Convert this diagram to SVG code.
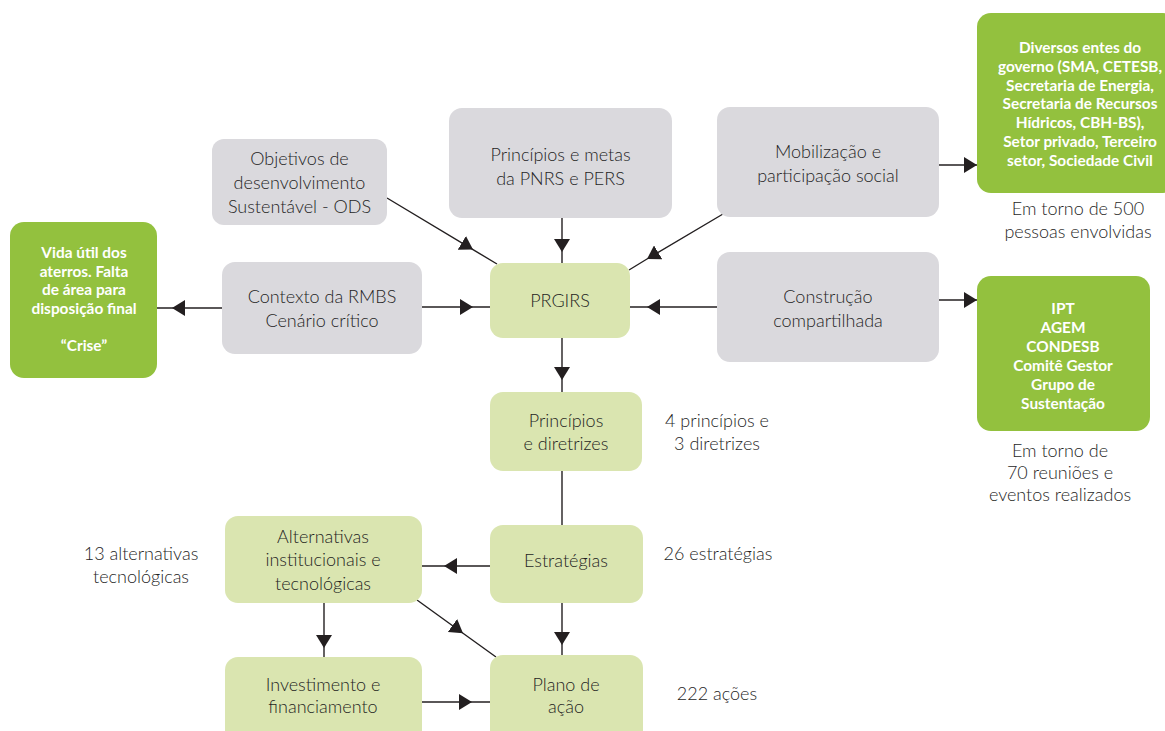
<svg xmlns="http://www.w3.org/2000/svg" width="1165" height="731" viewBox="0 0 1165 731">
<defs>
<style>
.gray{fill:#dad9dd}
.lg{fill:#dae5b0}
.g{fill:#93c13e}
.t{font-family:Lato,"Open Sans","Liberation Sans",sans-serif;font-size:18px;font-weight:300;fill:#1f1f1f;text-anchor:middle}
.w{font-family:Lato,"Open Sans","Liberation Sans",sans-serif;font-size:15.4px;font-weight:bold;fill:#fff;text-anchor:middle}
.c{fill:none;stroke:#231f20;stroke-width:1.4}
.a{marker-mid:url(#ah)}
.e{marker-end:url(#ah)}
</style>
<marker id="ah" markerUnits="userSpaceOnUse" markerWidth="14" markerHeight="16" refX="13" refY="8" orient="auto" viewBox="0 0 14 16">
<path d="M0,0 L13,8 L0,16 Z" fill="#231f20"/>
</marker>
</defs>
<rect width="1165" height="731" fill="#fff"/>

<g id="connectors">
<path class="c a" d="M387,198 L473,249.6 L497,264"/>
<path class="c a" d="M562,218 L562,252 L562,263"/>
<path class="c a" d="M723,214 L647,259 L629,270"/>
<path class="c a" d="M422,307 L473,307 L490,307"/>
<path class="c a" d="M717,307 L647,307 L630,307"/>
<path class="c a" d="M222,308 L172,308 L157,308"/>
<path class="c e" d="M939,165 L977,165"/>
<path class="c e" d="M939,300 L977,300"/>
<path class="c a" d="M562,338 L562,380 L562,392"/>
<path class="c" d="M562,471 L562,525"/>
<path class="c a" d="M490,566 L444,566 L422,566"/>
<path class="c a" d="M562,603 L562,645 L562,655"/>
<path class="c a" d="M324,603 L324,648 L324,657"/>
<path class="c a" d="M422,702 L472,702 L490,702"/>
<path class="c a" d="M417,600 L463,633.2 L496,657"/>
</g>

<g id="objetivos">
<rect class="gray" x="212" y="139" width="175" height="86" rx="12"/>
<text class="t" x="299.5" y="165">Objetivos de</text>
<text class="t" x="299.5" y="189">desenvolvimento</text>
<text class="t" x="299.5" y="213">Sustentável - ODS</text>
</g>
<g id="principios-metas">
<rect class="gray" x="449" y="108" width="223" height="110" rx="13"/>
<text class="t" x="560.5" y="161">Princípios e metas</text>
<text class="t" x="560.5" y="185">da PNRS e PERS</text>
</g>
<g id="mobilizacao">
<rect class="gray" x="717" y="107" width="222" height="110" rx="13"/>
<text class="t" x="828" y="158">Mobilização e</text>
<text class="t" x="828" y="182">participação social</text>
</g>
<g id="diversos">
<rect class="g" x="977" y="13" width="200" height="180" rx="14"/>
<text class="w" x="1080" y="53">Diversos entes do</text>
<text class="w" x="1080" y="71.8">governo (SMA, CETESB,</text>
<text class="w" x="1080" y="90.6">Secretaria de Energia,</text>
<text class="w" x="1080" y="109.4">Secretaria de Recursos</text>
<text class="w" x="1080" y="128.2">Hídricos, CBH-BS),</text>
<text class="w" x="1080" y="147">Setor privado, Terceiro</text>
<text class="w" x="1080" y="165.8">setor, Sociedade Civil</text>
</g>
<text class="t" x="1078" y="215">Em torno de 500</text>
<text class="t" x="1078" y="238">pessoas envolvidas</text>

<g id="vida-util">
<rect class="g" x="10" y="222" width="147" height="156" rx="14"/>
<text class="w" x="84" y="258">Vida útil dos</text>
<text class="w" x="84" y="276.5">aterros. Falta</text>
<text class="w" x="84" y="295">de área para</text>
<text class="w" x="84" y="313.5">disposição final</text>
<text class="w" x="84" y="350.5">“Crise”</text>
</g>
<g id="contexto">
<rect class="gray" x="222" y="262" width="200" height="92" rx="13"/>
<text class="t" x="322" y="303">Contexto da RMBS</text>
<text class="t" x="322" y="327">Cenário crítico</text>
</g>
<g id="prgirs">
<rect class="lg" x="490" y="263" width="140" height="75" rx="13"/>
<text class="t" x="560" y="307">PRGIRS</text>
</g>
<g id="construcao">
<rect class="gray" x="717" y="252" width="222" height="110" rx="13"/>
<text class="t" x="828" y="303">Construção</text>
<text class="t" x="828" y="327">compartilhada</text>
</g>
<g id="ipt">
<rect class="g" x="977" y="276" width="173" height="155" rx="14"/>
<text class="w" x="1063" y="314">IPT</text>
<text class="w" x="1063" y="333">AGEM</text>
<text class="w" x="1063" y="352">CONDESB</text>
<text class="w" x="1063" y="371">Comitê Gestor</text>
<text class="w" x="1063" y="390">Grupo de</text>
<text class="w" x="1063" y="409">Sustentação</text>
</g>
<text class="t" x="1060" y="457">Em torno de</text>
<text class="t" x="1060" y="479">70 reuniões e</text>
<text class="t" x="1060" y="501">eventos realizados</text>

<g id="principios-diretrizes">
<rect class="lg" x="490" y="392" width="152" height="79" rx="13"/>
<text class="t" x="566" y="427">Princípios</text>
<text class="t" x="566" y="450">e diretrizes</text>
</g>
<text class="t" x="717" y="427">4 princípios e</text>
<text class="t" x="717" y="450">3 diretrizes</text>

<g id="estrategias">
<rect class="lg" x="490" y="525" width="153" height="78" rx="13"/>
<text class="t" x="566" y="567">Estratégias</text>
</g>
<text class="t" x="718" y="560">26 estratégias</text>

<g id="alternativas">
<rect class="lg" x="225" y="516" width="197" height="87" rx="13"/>
<text class="t" x="323" y="543">Alternativas</text>
<text class="t" x="323" y="566">institucionais e</text>
<text class="t" x="323" y="590">tecnológicas</text>
</g>
<text class="t" x="141" y="560">13 alternativas</text>
<text class="t" x="141" y="583">tecnológicas</text>

<g id="investimento">
<rect class="lg" x="225" y="657" width="197" height="90" rx="13"/>
<text class="t" x="323" y="691">Investimento e</text>
<text class="t" x="323" y="713">financiamento</text>
</g>
<g id="plano">
<rect class="lg" x="490" y="655" width="153" height="92" rx="13"/>
<text class="t" x="566" y="691">Plano de</text>
<text class="t" x="566" y="713">ação</text>
</g>
<text class="t" x="717" y="700">222 ações</text>
</svg>
